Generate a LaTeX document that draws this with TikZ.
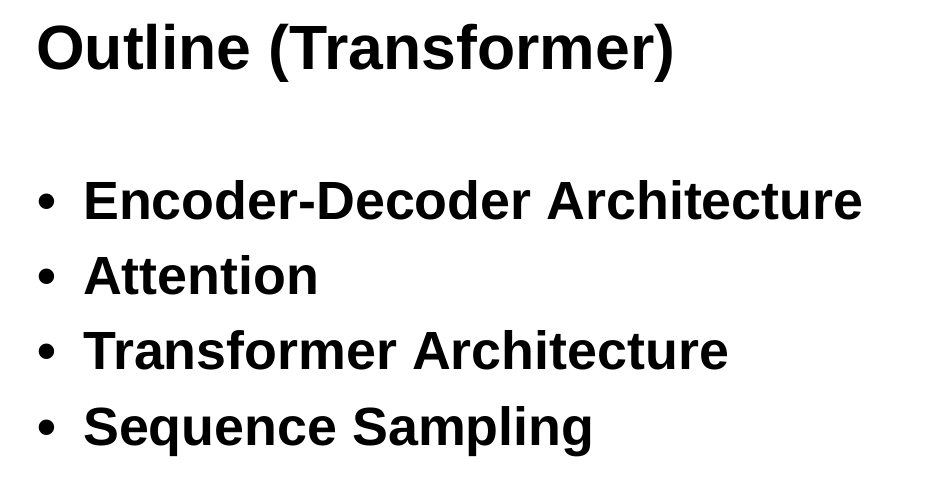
\documentclass[tikz,border=0pt]{standalone}
\usepackage{fontspec}
\setmainfont{Liberation Sans}
\usepackage{tikz}
\usetikzlibrary{positioning}

\begin{document}
\begin{tikzpicture}[x=1bp, y=1bp,
  titletext/.style={anchor=base west, inner sep=0pt, font=\bfseries\fontsize{62.5bp}{70bp}\selectfont},
  bulletitem/.style={anchor=base west, inner sep=0pt, font=\bfseries\fontsize{53.8bp}{60bp}\selectfont}]
  \useasboundingbox (0, 0) rectangle (939, -499);

  % Title
  \node[titletext] (title) at (36, -70) {Outline (Transformer)};

  % Bullet list
  \node[bulletitem] (encdec) at (37, -220) {\makebox[46bp][l]{\textbullet}Encoder-Decoder Architecture};
  \node[bulletitem] (attn) at (37, -295) {\makebox[46bp][l]{\textbullet}Attention};
  \node[bulletitem] (transarch) at (37, -370) {\makebox[46bp][l]{\textbullet}Transformer Architecture};
  \node[bulletitem] (seqsamp) at (37, -445) {\makebox[46bp][l]{\textbullet}Sequence Sampling};
\end{tikzpicture}
\end{document}
